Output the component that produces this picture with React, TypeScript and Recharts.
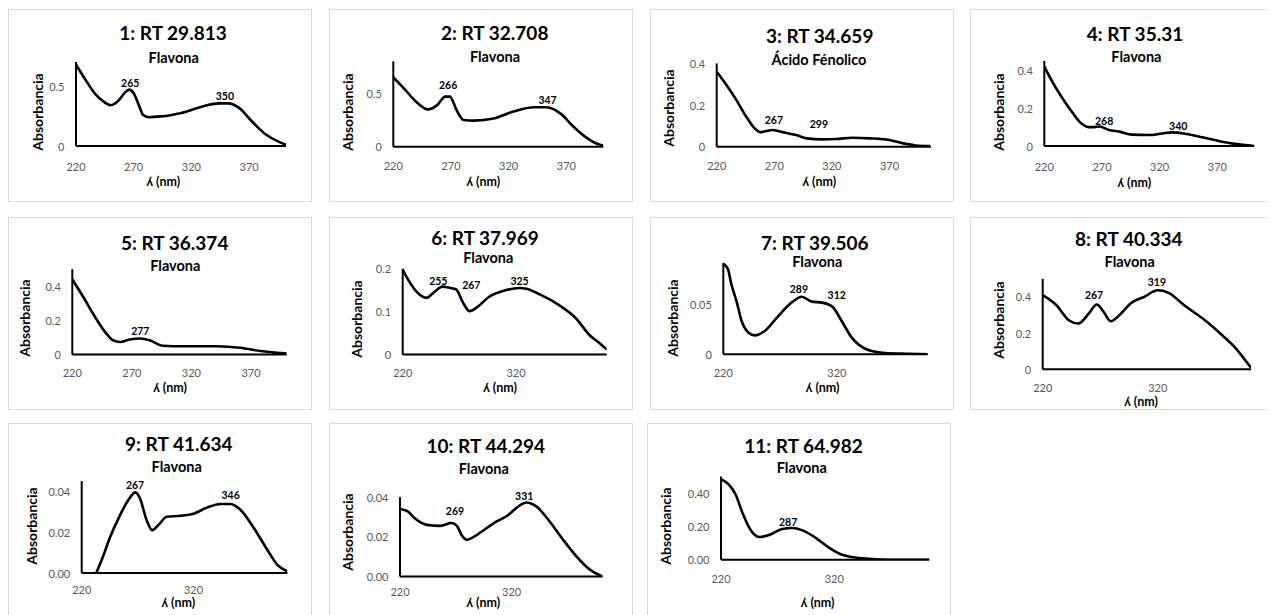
import React from 'react';
import { LineChart, Line, XAxis, YAxis, ReferenceDot } from 'recharts';

const FONT = 'Lato, "Open Sans", sans-serif';
const W = 304;
const H = 193;

// ---- spectra: wavelength (nm) and absorbance ----
const nm1 = [220, 229, 237, 243, 250, 257, 262, 266, 270, 275, 278, 283, 290, 298, 309, 320, 332, 344, 352, 361, 373, 384, 396, 402];
const abs1 = [0.68, 0.54, 0.43, 0.377, 0.34, 0.38, 0.44, 0.47, 0.44, 0.327, 0.26, 0.24, 0.245, 0.25, 0.27, 0.3, 0.335, 0.355, 0.355, 0.32, 0.2, 0.1, 0.034, 0.011];

const nm2 = [220, 229, 240, 250, 258, 265, 269, 275, 281, 290, 307, 324, 342, 353, 365, 376, 388, 397, 402];
const abs2 = [0.65, 0.55, 0.42, 0.35, 0.39, 0.47, 0.47, 0.34, 0.25, 0.245, 0.265, 0.33, 0.37, 0.37, 0.31, 0.19, 0.08, 0.025, 0.01];

const nm3 = [220, 228, 237, 245, 253, 258, 263, 268, 277, 289, 298, 312, 324, 338, 353, 370, 382, 393, 405];
const abs3 = [0.36, 0.3, 0.225, 0.15, 0.088, 0.07, 0.075, 0.08, 0.07, 0.056, 0.04, 0.035, 0.037, 0.043, 0.04, 0.032, 0.016, 0.006, 0.003];

const nm4 = [220, 227, 236, 244, 252, 258, 263, 268, 276, 285, 296, 311, 322, 331, 343, 357, 374, 392, 402];
const abs4 = [0.42, 0.34, 0.25, 0.18, 0.12, 0.1, 0.1, 0.103, 0.085, 0.076, 0.06, 0.058, 0.066, 0.072, 0.064, 0.046, 0.023, 0.006, 0.0];

const nm5 = [220, 229, 240, 249, 254, 260, 268, 277, 285, 296, 313, 341, 361, 378, 392, 400];
const abs5 = [0.44, 0.34, 0.21, 0.12, 0.085, 0.074, 0.088, 0.094, 0.084, 0.052, 0.049, 0.049, 0.04, 0.021, 0.01, 0.006];

const nm6 = [220, 226, 233, 241, 248, 255, 262, 267, 273, 279, 286, 296, 311, 323, 329, 341, 358, 373, 385, 394, 400];
const abs6 = [0.198, 0.169, 0.144, 0.132, 0.146, 0.158, 0.155, 0.152, 0.122, 0.101, 0.111, 0.134, 0.15, 0.155, 0.153, 0.14, 0.115, 0.084, 0.045, 0.026, 0.012];

const nm7 = [220, 224, 227, 232, 236, 242, 248, 257, 268, 280, 289, 298, 307, 316, 324, 333, 345, 360, 377, 400];
const abs7 = [0.091, 0.086, 0.071, 0.052, 0.034, 0.022, 0.019, 0.024, 0.038, 0.052, 0.058, 0.053, 0.052, 0.048, 0.034, 0.017, 0.0056, 0.0016, 0.0007, 0.0];

const nm8 = [220, 232, 243, 251, 260, 267, 273, 279, 288, 296, 308, 320, 329, 343, 361, 376, 388, 396, 401];
const abs8 = [0.41, 0.354, 0.27, 0.253, 0.308, 0.358, 0.317, 0.266, 0.308, 0.363, 0.4, 0.437, 0.424, 0.354, 0.271, 0.188, 0.114, 0.05, 0.009];

const nm9 = [233, 239, 245, 254, 262, 268, 272, 278, 283, 289, 296, 308, 320, 332, 344, 353, 362, 374, 386, 395, 404];
const abs9 = [0, 0.008, 0.017, 0.028, 0.036, 0.0395, 0.0367, 0.026, 0.021, 0.0237, 0.0275, 0.028, 0.029, 0.032, 0.0338, 0.0338, 0.031, 0.022, 0.0114, 0.004, 0.0008];

const nm10 = [220, 227, 233, 244, 256, 266, 271, 275, 280, 289, 304, 316, 328, 333, 342, 354, 366, 378, 390, 401];
const abs10 = [0.034, 0.0328, 0.0294, 0.026, 0.0255, 0.0269, 0.0255, 0.021, 0.0185, 0.021, 0.0269, 0.0306, 0.0361, 0.0373, 0.0353, 0.0277, 0.0185, 0.0101, 0.0034, 0];

const nm11 = [220, 227, 233, 239, 246, 254, 263, 274, 283, 292, 304, 316, 327, 345, 368, 404];
const abs11 = [0.484, 0.45, 0.39, 0.28, 0.18, 0.136, 0.15, 0.184, 0.19, 0.176, 0.13, 0.07, 0.03, 0.008, 0.0, 0.0];

// peak labels (label centre in data units)
type Peak = { nm: number; at: number; label: string };
const peaks1: Peak[] = [{ nm: 267, at: 0.525, label: '265' }, { nm: 349, at: 0.416, label: '350' }];
const peaks2: Peak[] = [{ nm: 267.5, at: 0.578, label: '266' }, { nm: 353.7, at: 0.438, label: '347' }];
const peaks3: Peak[] = [{ nm: 269.6, at: 0.125, label: '267' }, { nm: 308.7, at: 0.109, label: '299' }];
const peaks4: Peak[] = [{ nm: 271.9, at: 0.129, label: '268' }, { nm: 336.1, at: 0.103, label: '340' }];
const peaks5: Peak[] = [{ nm: 277.1, at: 0.138, label: '277' }];
const peaks6: Peak[] = [{ nm: 251.4, at: 0.17, label: '255' }, { nm: 280.5, at: 0.161, label: '267' }, { nm: 323.1, at: 0.17, label: '325' }];
const peaks7: Peak[] = [{ nm: 286.6, at: 0.0652, label: '289' }, { nm: 319.9, at: 0.0591, label: '312' }];
const peaks8: Peak[] = [{ nm: 264.6, at: 0.409, label: '267' }, { nm: 319.2, at: 0.483, label: '319' }];
const peaks9: Peak[] = [{ nm: 267.7, at: 0.0431, label: '267' }, { nm: 353.2, at: 0.0382, label: '346' }];
const peaks10: Peak[] = [{ nm: 269.2, at: 0.0331, label: '269' }, { nm: 331.2, at: 0.0403, label: '331' }];
const peaks11: Peak[] = [{ nm: 279.3, at: 0.224, label: '287' }];

const titles = ['1: RT 29.813', '2: RT 32.708', '3: RT 34.659', '4: RT 35.31', '5: RT 36.374', '6: RT 37.969', '7: RT 39.506', '8: RT 40.334', '9: RT 41.634', '10: RT 44.294', '11: RT 64.982'];
const classes = ['Flavona', 'Flavona', 'Ácido Fénolico', 'Flavona', 'Flavona', 'Flavona', 'Flavona', 'Flavona', 'Flavona', 'Flavona', 'Flavona'];

const xTicksWide = [220, 270, 320, 370];
const xTicksNarrow = [220, 320];

const yTicks1 = [0, 0.5];
const yTicks3 = [0, 0.2, 0.4];
const yTicks6 = [0, 0.1, 0.2];
const yTicks7 = [0, 0.05];
const yTicks9 = [0, 0.02, 0.04];
const yTicks11 = [0, 0.2, 0.4];

const series = [
  { nm: nm1, abs: abs1, peaks: peaks1, xTicks: xTicksWide, yTicks: yTicks1, yMax: 0.7, xMax: 402, dec: 0 },
  { nm: nm2, abs: abs2, peaks: peaks2, xTicks: xTicksWide, yTicks: yTicks1, yMax: 0.8, xMax: 402, dec: 0 },
  { nm: nm3, abs: abs3, peaks: peaks3, xTicks: xTicksWide, yTicks: yTicks3, yMax: 0.4, xMax: 406, dec: 0 },
  { nm: nm4, abs: abs4, peaks: peaks4, xTicks: xTicksWide, yTicks: yTicks3, yMax: 0.45, xMax: 402, dec: 0 },
  { nm: nm5, abs: abs5, peaks: peaks5, xTicks: xTicksWide, yTicks: yTicks3, yMax: 0.5, xMax: 400, dec: 0 },
  { nm: nm6, abs: abs6, peaks: peaks6, xTicks: xTicksNarrow, yTicks: yTicks6, yMax: 0.2, xMax: 400, dec: 0 },
  { nm: nm7, abs: abs7, peaks: peaks7, xTicks: xTicksNarrow, yTicks: yTicks7, yMax: 0.092, xMax: 400, dec: 0 },
  { nm: nm8, abs: abs8, peaks: peaks8, xTicks: xTicksNarrow, yTicks: yTicks3, yMax: 0.5, xMax: 401, dec: 0 },
  { nm: nm9, abs: abs9, peaks: peaks9, xTicks: xTicksNarrow, yTicks: yTicks9, yMax: 0.045, xMax: 404, dec: 2 },
  { nm: nm10, abs: abs10, peaks: peaks10, xTicks: xTicksNarrow, yTicks: yTicks9, yMax: 0.04, xMax: 401.5, dec: 2 },
  { nm: nm11, abs: abs11, peaks: peaks11, xTicks: xTicksNarrow, yTicks: yTicks11, yMax: 0.5, xMax: 404, dec: 2 },
];

// ---- layout of each small chart (px, relative to its box) ----
type Layout = {
  box: [number, number];
  plot: [number, number, number, number]; // left, top, width, height
  tickOff: number;
  title: [number, number];
  sub: [number, number];
  yTitle: [number, number];
  xTitle: [number, number];
};

const layouts: Layout[] = [
  { box: [0, 1], plot: [68, 53, 210, 84], tickOff: 20, title: [165, 23], sub: [165.7, 49.3], yTitle: [30.3, 102.7], xTitle: [155.3, 172.7] },
  { box: [321, 1], plot: [64.3, 52.4, 210, 85.3], tickOff: 19, title: [165.7, 22.7], sub: [166, 48.3], yTitle: [19.3, 102.7], xTitle: [154.3, 172.7] },
  { box: [642, 1], plot: [66.7, 54.4, 214.3, 83.3], tickOff: 19, title: [169.7, 26], sub: [169, 51], yTitle: [19.3, 98.5], xTitle: [169.3, 172.7] },
  { box: [962, 1], plot: [74.3, 52, 210, 85], tickOff: 20, title: [165, 24.3], sub: [166.4, 47.7], yTitle: [29.3, 102.7], xTitle: [164.3, 173.7] },
  { box: [0, 208.7], plot: [64.3, 52.2, 214.4, 85.4], tickOff: 17.4, title: [166.7, 25], sub: [167.3, 49.3], yTitle: [17, 101.6], xTitle: [162, 171] },
  { box: [321, 208.7], plot: [73.7, 51.6, 204, 86], tickOff: 17.4, title: [156, 20], sub: [159.3, 41.6], yTitle: [27.7, 102.3], xTitle: [171, 171] },
  { box: [642, 208.7], plot: [73.3, 45.9, 204.4, 91.4], tickOff: 17.7, title: [164.8, 25], sub: [167.3, 45], yTitle: [22.7, 101], xTitle: [172.7, 171] },
  { box: [962, 208.7], plot: [72.7, 61.9, 208.3, 90.4], tickOff: 17.7, title: [158.8, 21.6], sub: [159.7, 45], yTitle: [29.3, 103.3], xTitle: [171, 185] },
  { box: [0, 415.3], plot: [73.7, 58.1, 205.7, 91.9], tickOff: 16.7, title: [170.8, 20], sub: [168.7, 43.4], yTitle: [23.7, 102.7], xTitle: [170.3, 179.4] },
  { box: [321, 415.3], plot: [71, 74.1, 202.7, 79.3], tickOff: 15, title: [156.8, 21.7], sub: [154.8, 46], yTitle: [19.3, 108.4], xTitle: [154.3, 180] },
  { box: [639, 415.3], plot: [74, 53.4, 208.3, 83.3], tickOff: 18.3, title: [156.5, 21.7], sub: [154.8, 45], yTitle: [19, 102.7], xTitle: [170.7, 179.4] },
];

function Txt({ at, size, rotate, children }: { at: [number, number]; size: number; rotate?: boolean; children: React.ReactNode }) {
  return (
    <div
      style={{
        position: 'absolute',
        left: at[0],
        top: at[1],
        transform: `translate(-50%, -50%)${rotate ? ' rotate(-90deg)' : ''}`,
        fontFamily: FONT,
        fontWeight: 700,
        fontSize: size,
        lineHeight: 1,
        whiteSpace: 'nowrap',
        color: '#000',
      }}
    >
      {children}
    </div>
  );
}

function Panel({ idx }: { idx: number }) {
  const s = series[idx];
  const lay = layouts[idx];
  const [l, t, w, h] = lay.plot;
  const data = s.nm.map((x, i) => ({ nm: x, a: s.abs[i] }));

  const xTick = (p: any) => (
    <text x={p.x} y={p.y + lay.tickOff} textAnchor="middle" dominantBaseline="central" fontSize={11} fill="#595959" fontFamily={FONT}>
      {p.payload.value}
    </text>
  );
  const yTick = (p: any) => {
    const v = p.payload.value as number;
    return (
      <text x={p.x - 11.5} y={p.y} textAnchor="end" dominantBaseline="central" fontSize={11} fill="#595959" fontFamily={FONT}>
        {s.dec ? v.toFixed(s.dec) : String(v)}
      </text>
    );
  };

  return (
    <div
      style={{
        position: 'absolute',
        left: lay.box[0],
        top: lay.box[1],
        width: W,
        height: H,
        border: '1px solid #d9d9d9',
        boxSizing: 'border-box',
        background: '#fff',
      }}
    >
      <div style={{ position: 'absolute', left: -1, top: -1, width: W, height: H }}>
        <LineChart width={W} height={H} data={data} margin={{ top: t, right: W - l - w, bottom: 0, left: 0 }}>
          <XAxis
            type="number"
            dataKey="nm"
            domain={[220, s.xMax]}
            ticks={s.xTicks}
            interval={0}
            allowDataOverflow
            height={H - t - h}
            axisLine={{ stroke: '#000', strokeWidth: 2 }}
            tickLine={false}
            tickSize={0}
            tickMargin={0}
            tick={xTick}
          />
          <YAxis
            type="number"
            domain={[0, s.yMax]}
            ticks={s.yTicks}
            interval={0}
            allowDataOverflow
            width={l}
            axisLine={{ stroke: '#000', strokeWidth: 2 }}
            tickLine={false}
            tickSize={0}
            tickMargin={0}
            tick={yTick}
          />
          <Line dataKey="a" type="monotone" stroke="#000" strokeWidth={2.6} dot={false} isAnimationActive={false} />
          {s.peaks.map((p) => (
            <ReferenceDot
              key={p.label + p.nm}
              x={p.nm}
              y={p.at}
              r={0}
              fill="none"
              stroke="none"
              ifOverflow="visible"
              label={{ value: p.label, position: 'center', fill: '#000', fontSize: 10.5, fontWeight: 700, fontFamily: FONT }}
            />
          ))}
        </LineChart>
        <Txt at={lay.title} size={19}>{titles[idx]}</Txt>
        <Txt at={lay.sub} size={14.5}>{classes[idx]}</Txt>
        <Txt at={lay.yTitle} size={14} rotate>Absorbancia</Txt>
        <Txt at={lay.xTitle} size={12.5}>ʎ (nm)</Txt>
      </div>
    </div>
  );
}

export default function App() {
  return (
    <div style={{ position: 'relative', width: 1260, height: 607, background: '#fff' }}>
      {series.map((_, i) => (
        <Panel key={i} idx={i} />
      ))}
    </div>
  );
}
